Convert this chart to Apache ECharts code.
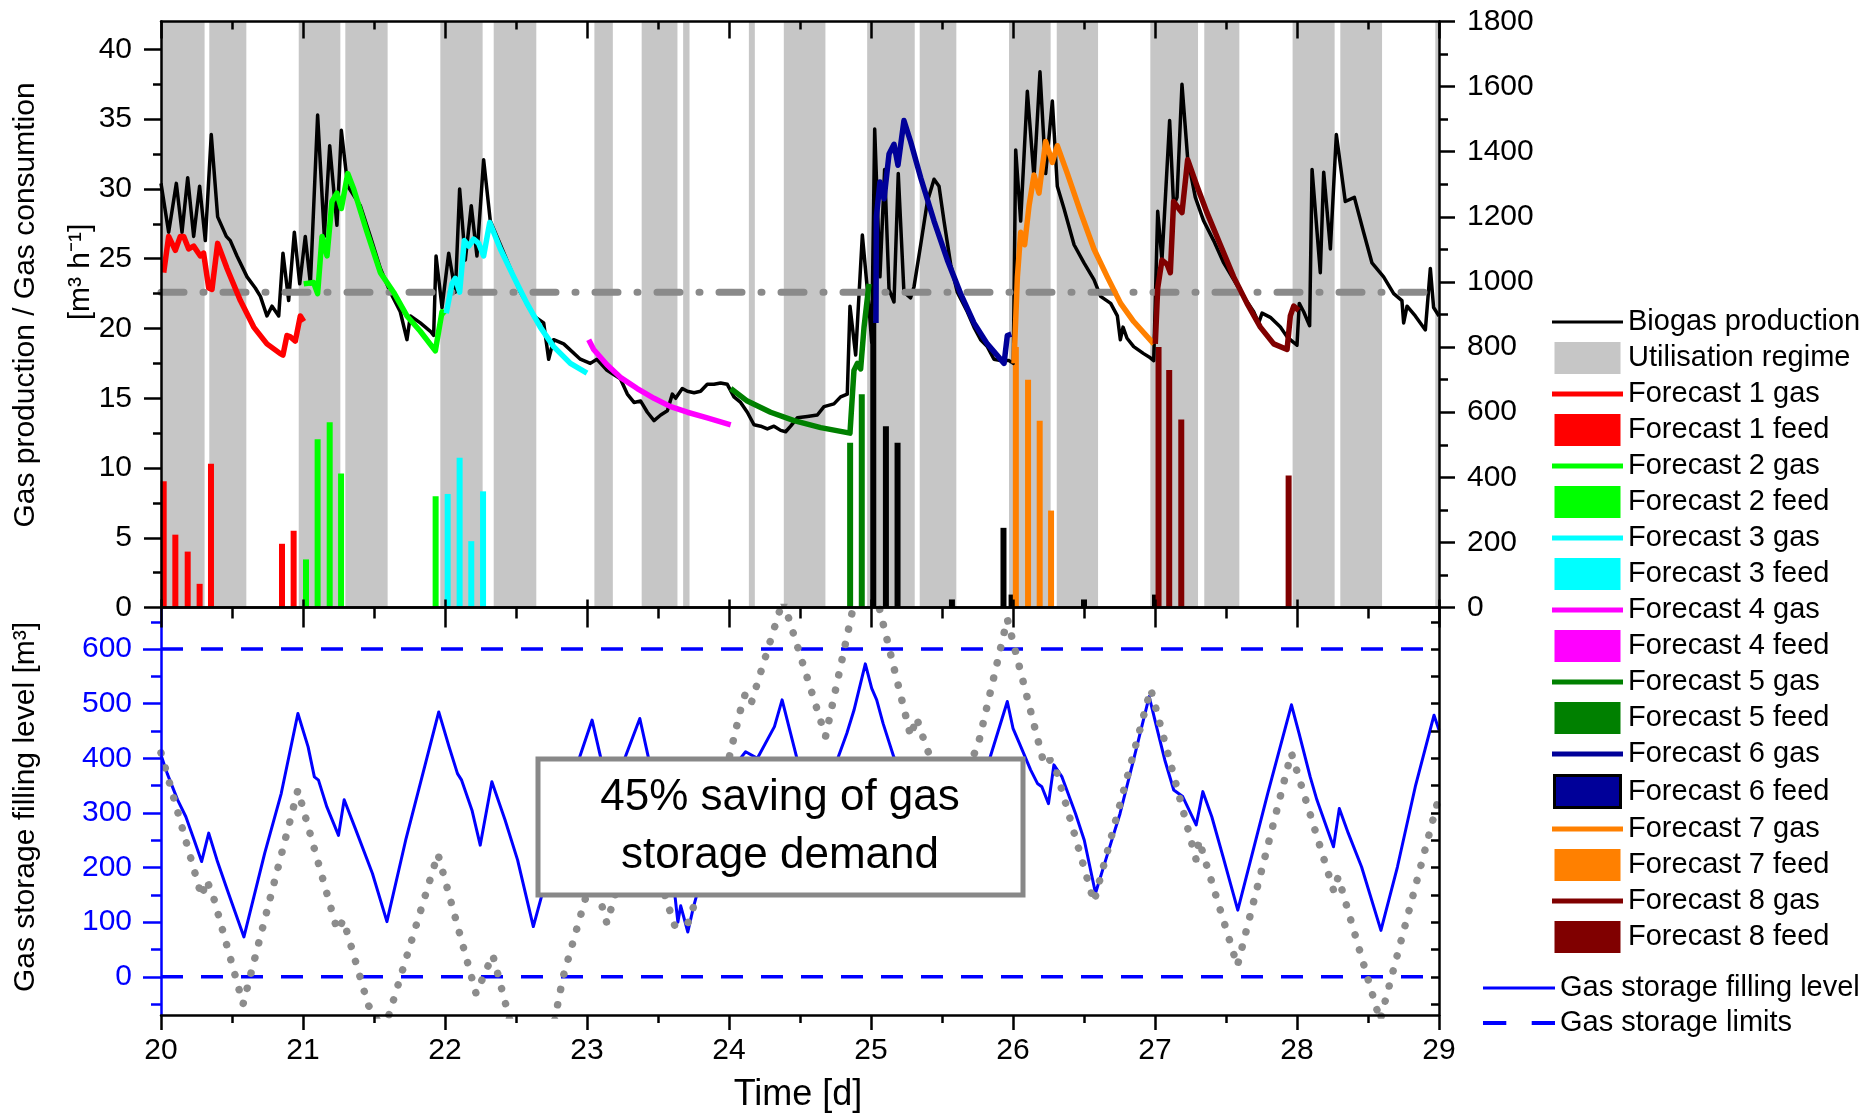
<!DOCTYPE html>
<html><head><meta charset="utf-8">
<script src="https://cdn.jsdelivr.net/npm/echarts@6/dist/echarts.min.js"></script>
<style>html,body{margin:0;padding:0;background:#fff}#c{width:1868px;height:1113px}</style>
</head><body><div id="c"></div>
<script>
// ---------------- DATA ----------------
const bandStart = [20.0, 20.34, 20.97, 21.298, 21.967, 22.343, 23.052, 23.385, 23.677, 24.14, 24.386, 24.973, 25.343, 25.972, 26.308, 26.967, 27.347, 27.969, 28.305, 28.974];
const bandEnd   = [20.307, 20.601, 21.263, 21.596, 22.265, 22.643, 23.182, 23.637, 23.722, 24.182, 24.679, 25.308, 25.601, 26.265, 26.599, 27.303, 27.594, 28.265, 28.599, 29.0];

const biogas = [[20.000,30.4],[20.054,26.9],[20.108,30.4],[20.148,26.9],[20.188,30.8],[20.230,26.6],[20.272,30.2],[20.312,26.3],[20.354,33.9],[20.399,28.0],[20.460,26.6],[20.488,26.3],[20.535,25.2],[20.606,23.7],[20.664,22.9],[20.700,22.3],[20.746,20.9],[20.782,21.6],[20.829,20.9],[20.859,25.4],[20.899,22.0],[20.939,26.9],[20.977,23.2],[21.016,26.6],[21.052,23.2],[21.103,35.3],[21.150,26.6],[21.188,33.1],[21.239,27.4],[21.270,34.2],[21.315,30.2],[21.404,28.8],[21.474,26.6],[21.545,24.3],[21.615,22.6],[21.685,21.2],[21.732,19.2],[21.756,20.9],[21.826,20.4],[21.897,19.8],[21.920,19.5],[21.937,25.2],[21.979,21.5],[22.026,25.4],[22.073,22.6],[22.103,30.0],[22.143,24.9],[22.185,28.8],[22.225,25.2],[22.272,32.1],[22.319,27.7],[22.390,26.0],[22.460,24.3],[22.531,22.6],[22.624,20.9],[22.695,20.4],[22.730,17.8],[22.765,19.2],[22.836,18.9],[22.953,17.8],[23.023,17.5],[23.070,17.8],[23.141,17.0],[23.235,16.4],[23.284,15.3],[23.331,14.7],[23.378,14.8],[23.425,14.0],[23.472,13.4],[23.519,13.8],[23.566,14.1],[23.601,15.3],[23.624,15.0],[23.671,15.7],[23.707,15.5],[23.754,15.4],[23.800,15.5],[23.847,16.0],[23.894,16.0],[23.941,16.1],[23.988,16.0],[24.035,15.1],[24.082,14.7],[24.129,14.0],[24.176,13.1],[24.223,13.0],[24.270,12.8],[24.317,13.0],[24.364,12.7],[24.399,12.6],[24.434,13.0],[24.481,13.6],[24.552,13.7],[24.622,13.8],[24.669,14.4],[24.739,14.6],[24.786,15.1],[24.833,15.3],[24.852,21.6],[24.892,18.1],[24.939,26.7],[24.986,21.5],[25.005,19.0],[25.026,34.3],[25.063,23.7],[25.096,31.4],[25.127,22.8],[25.162,21.9],[25.192,31.1],[25.232,22.6],[25.279,22.2],[25.303,23.0],[25.350,26.0],[25.397,29.1],[25.444,30.7],[25.479,30.2],[25.514,27.7],[25.561,24.6],[25.608,22.6],[25.678,21.2],[25.725,20.1],[25.772,19.2],[25.819,18.7],[25.866,17.8],[25.913,17.7],[25.972,17.7],[26.002,17.5],[26.019,32.8],[26.054,27.7],[26.101,37.0],[26.148,30.8],[26.190,38.4],[26.230,31.1],[26.277,36.3],[26.312,30.2],[26.359,28.6],[26.430,26.0],[26.500,24.7],[26.570,23.5],[26.617,22.3],[26.688,21.8],[26.735,20.9],[26.756,19.2],[26.775,20.1],[26.803,19.3],[26.850,18.7],[26.920,18.2],[26.967,17.9],[26.991,17.7],[27.019,28.4],[27.049,24.9],[27.103,34.9],[27.131,28.8],[27.155,29.4],[27.190,37.5],[27.230,32.2],[27.284,29.4],[27.343,27.7],[27.413,26.3],[27.484,24.7],[27.554,23.5],[27.624,22.3],[27.695,21.2],[27.730,20.4],[27.754,21.1],[27.812,20.8],[27.883,20.1],[27.930,19.4],[27.965,19.1],[28.000,18.8],[28.016,21.8],[28.047,21.2],[28.089,20.2],[28.106,31.4],[28.164,24.0],[28.188,31.2],[28.235,25.7],[28.277,33.9],[28.340,29.1],[28.404,29.4],[28.469,26.9],[28.528,24.7],[28.610,23.7],[28.681,22.5],[28.739,22.0],[28.751,20.4],[28.775,21.6],[28.833,20.9],[28.904,19.9],[28.939,24.3],[28.962,21.5],[29.000,20.9]];

const fc1Gas = [[20.019,24.0],[20.054,26.6],[20.101,25.6],[20.136,26.6],[20.160,26.6],[20.195,25.7],[20.230,25.9],[20.277,25.2],[20.300,25.4],[20.336,22.9],[20.359,22.8],[20.399,26.1],[20.465,24.3],[20.559,22.0],[20.653,20.1],[20.746,18.9],[20.840,18.2],[20.859,18.1],[20.887,19.5],[20.911,19.4],[20.946,19.1],[20.981,20.9],[21.005,20.5]];
const fc2Gas = [[21.005,23.2],[21.075,23.3],[21.103,22.5],[21.134,26.6],[21.169,25.2],[21.204,29.1],[21.239,29.7],[21.270,28.6],[21.315,31.1],[21.357,30.0],[21.451,26.9],[21.545,24.0],[21.638,22.6],[21.732,20.9],[21.826,19.8],[21.932,18.4],[21.979,21.2],[22.002,21.0]];
const fc3Gas = [[22.009,21.1],[22.049,23.2],[22.073,23.6],[22.103,22.6],[22.136,26.3],[22.167,25.9],[22.202,26.4],[22.237,26.1],[22.272,25.2],[22.315,27.6],[22.390,25.7],[22.484,23.7],[22.577,21.8],[22.671,20.1],[22.765,18.7],[22.883,17.5],[23.000,16.8]];
const fc4Gas = [[23.012,19.2],[23.047,18.5],[23.141,17.4],[23.235,16.5],[23.354,15.7],[23.472,15.0],[23.589,14.4],[23.707,14.0],[23.847,13.6],[24.012,13.1]];
const fc5Gas = [[24.012,15.7],[24.129,14.8],[24.293,14.0],[24.458,13.4],[24.646,12.9],[24.852,12.5],[24.880,17.0],[24.904,17.5],[24.927,17.1],[24.951,20.1],[24.986,23.2]];
const fc6Gas = [[25.035,20.4],[25.038,28.0],[25.063,30.5],[25.092,29.3],[25.127,32.5],[25.162,33.2],[25.190,31.7],[25.232,34.9],[25.279,33.4],[25.350,30.8],[25.444,27.7],[25.538,24.9],[25.631,22.5],[25.725,20.4],[25.819,18.9],[25.937,17.5],[25.960,19.5],[25.988,19.6]];
const fc7Gas = [[26.007,17.5],[26.031,23.7],[26.054,26.9],[26.082,26.0],[26.113,28.8],[26.148,31.0],[26.183,29.7],[26.230,33.4],[26.277,31.9],[26.312,33.1],[26.383,31.1],[26.477,28.3],[26.570,25.7],[26.664,23.7],[26.758,21.8],[26.850,20.5],[26.991,18.9]];
const fc8Gas = [[27.002,18.9],[27.019,22.9],[27.049,24.9],[27.085,24.6],[27.108,24.0],[27.131,29.1],[27.167,28.6],[27.190,28.3],[27.230,32.1],[27.296,30.2],[27.366,28.3],[27.460,26.0],[27.554,23.7],[27.648,21.8],[27.742,20.1],[27.836,18.9],[27.930,18.5],[27.953,20.9],[27.977,21.6],[28.012,21.3]];

const fc1Feed = [[20.019,388],[20.101,224],[20.188,172],[20.272,73],[20.352,442],[20.852,196],[20.934,236]];
const fc2Feed = [[21.021,148],[21.103,517],[21.188,569],[21.268,412],[21.934,342]];
const fc3Feed = [[22.019,349],[22.103,460],[22.185,204],[22.268,357]];
const fc4Feed = [];
const fc5Feed = [[24.853,506],[24.935,655]];
const fc6Feed = [[25.016,880],[25.105,557],[25.187,506],[25.57,25],[25.933,245],[25.99,40],[26.5,25],[27.0,40]];
const fc7Feed = [[26.02,800],[26.106,700],[26.188,574],[26.268,298]];
const fc8Feed = [[27.025,800],[27.100,730],[27.185,578],[27.941,406]];

const consumption = [[20,22.6],[29,22.6]];

const storageLevel = [[20.0,406],[20.044,372],[20.117,324],[20.175,293],[20.234,250],[20.286,211],[20.336,263],[20.394,214],[20.467,159],[20.584,73],[20.730,226],[20.847,336],[20.964,482],[21.036,421],[21.080,366],[21.109,360],[21.168,311],[21.250,259],[21.290,324],[21.372,269],[21.489,189],[21.591,101],[21.723,250],[21.869,397],[21.956,485],[22.029,421],[22.088,372],[22.117,360],[22.190,305],[22.248,241],[22.330,357],[22.423,287],[22.511,214],[22.622,92],[22.686,153],[22.82,290],[22.949,403],[23.036,470],[23.095,403],[23.18,300],[23.270,403],[23.372,473],[23.431,403],[23.52,270],[23.62,147],[23.64,100],[23.66,130],[23.71,82],[23.75,128],[23.92,290],[24.08,400],[24.117,412],[24.2,400],[24.32,458],[24.374,507],[24.49,388],[24.62,280],[24.77,403],[24.83,446],[24.88,488],[24.96,573],[25.005,528],[25.04,507],[25.085,464],[25.16,403],[25.48,250],[25.84,403],[25.96,504],[26.0,455],[26.046,427],[26.124,379],[26.172,354],[26.203,348],[26.25,317],[26.288,388],[26.345,366],[26.44,299],[26.502,250],[26.581,153],[26.66,220],[26.754,299],[26.849,397],[26.959,513],[27.022,446],[27.069,397],[27.132,342],[27.195,330],[27.29,278],[27.337,339],[27.4,293],[27.479,220],[27.583,122],[27.668,208],[27.794,336],[27.961,498],[28.014,446],[28.093,366],[28.14,324],[28.257,238],[28.298,308],[28.361,263],[28.455,201],[28.591,85],[28.707,201],[28.833,348],[28.965,479],[29.0,452]];

const storageNoForecast = [[20.0,410],[20.286,147],[20.321,177],[20.365,150],[20.578,-50],[20.964,342],[21.241,85],[21.285,104],[21.460,-52],[21.57,-100],[21.950,225],[22.219,-31],[22.336,40],[22.365,12],[22.636,-259],[22.832,0],[23.04,190],[23.14,98],[23.17,125],[23.36,300],[23.62,92],[23.71,98],[23.75,128],[24.09,498],[24.12,522],[24.16,504],[24.38,690],[24.68,440],[24.96,780],[25.28,440],[25.32,475],[25.39,420],[25.55,320],[25.75,420],[25.96,655],[26.22,388],[26.26,397],[26.29,391],[26.57,137],[26.97,527],[27.29,214],[27.31,250],[27.58,20],[27.96,410],[28.26,156],[28.29,183],[28.585,-80],[28.97,300],[29.0,330]];

const storageUpper = [[20,600],[29,600]];
const storageLower = [[20,0],[29,0]];

const gasTicks = [0,5,10,15,20,25,30,35,40];
const gasMinorTicks = [2.5,7.5,12.5,17.5,22.5,27.5,32.5,37.5];
const storeTicks = [0,100,200,300,400,500,600];
const storeMinorTicks = [-50,50,150,250,350,450,550,650];
const storeRightTicks = [-50,0,50,100,150,200,250,300,350,400,450,500,550,600,650];

const fcColors = ['#ff0000','#00ff00','#00ffff','#ff00ff','#008000','#000099','#ff8000','#800000'];
const fcGas = [fc1Gas,fc2Gas,fc3Gas,fc4Gas,fc5Gas,fc6Gas,fc7Gas,fc8Gas];
const fcFeed = [fc1Feed,fc2Feed,fc3Feed,fc4Feed,fc5Feed,fc6Feed,fc7Feed,fc8Feed];

// ---------------- CHART ----------------
const F = 'Liberation Sans, Arial, sans-serif';
const chart = echarts.init(document.getElementById('c'), null, {renderer:'canvas', width:1868, height:1113});
const K = '#000';
const plain = v => String(v);

function xAxis(gridIndex, position, inside, major, minor, labels) {
  return {type:'value', gridIndex, position, min:20, max:29, interval:1, z:10,
    axisLine:{show:true, onZero:false, lineStyle:{color:K, width:2.5}},
    axisTick:{show:true, inside, length:major, lineStyle:{color:K, width:2.5}},
    minorTick:{show:minor>0, splitNumber:2, length:minor, lineStyle:{color:K, width:2.5}},
    axisLabel:{show:labels, fontSize:30, color:K, fontFamily:F, margin:21, formatter:plain},
    splitLine:{show:false}, minorSplitLine:{show:false}};
}

const xAxes = [
  xAxis(0,'bottom',true,8,0,false),
  xAxis(0,'top',true,17,8,false),
  xAxis(1,'top',true,20,11,false),
  xAxis(1,'bottom',false,15,8,true)
];

const yAxes = [
  {type:'value', gridIndex:0, position:'left', min:0, max:42, z:10,
    axisLine:{show:true, onZero:false, lineStyle:{color:K, width:2.5}},
    axisTick:{show:true, length:17, customValues:gasTicks, lineStyle:{color:K, width:2.5}},
    axisLabel:{show:true, customValues:gasTicks, fontSize:30, color:K, fontFamily:F, margin:29, formatter:plain},
    splitLine:{show:false}},
  {type:'value', gridIndex:0, position:'left', min:0, max:42, z:10,
    axisLine:{show:false, onZero:false},
    axisTick:{show:true, length:8, customValues:gasMinorTicks, lineStyle:{color:K, width:2.5}},
    axisLabel:{show:false}, splitLine:{show:false}},
  {type:'value', gridIndex:0, position:'right', min:0, max:1800, interval:200, z:10,
    axisLine:{show:true, onZero:false, lineStyle:{color:K, width:2.5}},
    axisTick:{show:true, length:16, lineStyle:{color:K, width:2.5}},
    minorTick:{show:true, splitNumber:2, length:9, lineStyle:{color:K, width:2.5}},
    axisLabel:{show:true, fontSize:30, color:K, fontFamily:F, margin:28, formatter:plain},
    splitLine:{show:false}, minorSplitLine:{show:false}},
  {type:'value', gridIndex:1, position:'left', min:-70, max:676, z:10,
    axisLine:{show:true, onZero:false, lineStyle:{color:'#0000ff', width:2.5}},
    axisTick:{show:true, length:18, customValues:storeTicks, lineStyle:{color:'#0000ff', width:2.5}},
    axisLabel:{show:true, customValues:storeTicks, fontSize:30, color:'#0000ff', fontFamily:F, margin:29, formatter:plain},
    splitLine:{show:false}},
  {type:'value', gridIndex:1, position:'left', min:-70, max:676, z:10,
    axisLine:{show:false, onZero:false},
    axisTick:{show:true, length:10, customValues:storeMinorTicks, lineStyle:{color:'#0000ff', width:2.5}},
    axisLabel:{show:false}, splitLine:{show:false}},
  {type:'value', gridIndex:1, position:'right', min:-70, max:676, z:10,
    axisLine:{show:true, onZero:false, lineStyle:{color:K, width:2.5}},
    axisTick:{show:true, inside:true, length:8, customValues:storeRightTicks, lineStyle:{color:K, width:2.5}},
    axisLabel:{show:false}, splitLine:{show:false}}
];

const series = [];
series.push({
  type:'custom', name:'Utilisation regime', xAxisIndex:0, yAxisIndex:0, z:1, silent:true,
  itemStyle:{color:'#c6c6c6'},
  encode:{x:[0,1], y:2},
  data: bandStart.map((s,i)=>[s, bandEnd[i], 0]),
  renderItem:(params, api)=>{
    const p0 = api.coord([api.value(0), 42]);
    const p1 = api.coord([api.value(1), 0]);
    return {type:'rect', shape:{x:p0[0], y:p0[1], width:p1[0]-p0[0], height:p1[1]-p0[1]}, style:{fill:'#c6c6c6'}};
  }
});
fcFeed.forEach((d,i)=>{
  const isSix = i === 5;
  series.push({type:'bar', name:`Forecast ${i+1} feed`, xAxisIndex:0, yAxisIndex:2, data:d,
    barWidth:6, barGap:'-100%', z:2, silent:true,
    itemStyle:{color: isSix ? '#000' : fcColors[i]}});
});
series.push({type:'line', name:'Biogas production', xAxisIndex:0, yAxisIndex:0, data:biogas, color:'#000',
  symbol:'none', z:3, silent:true, lineStyle:{color:'#000', width:3.5, join:'round'}});
series.push({type:'line', name:'Gas consumption', xAxisIndex:0, yAxisIndex:0, data:consumption, color:'#8a8a8a',
  symbol:'none', z:4, silent:true, lineStyle:{color:'#8a8a8a', width:7, type:[23,19,1,19], cap:'round'}});
fcGas.forEach((d,i)=>{
  series.push({type:'line', name:`Forecast ${i+1} gas`, xAxisIndex:0, yAxisIndex:0, data:d, color:fcColors[i],
    symbol:'none', z:5, silent:true, lineStyle:{color:fcColors[i], width:5.5, join:'round'}});
});
series.push({type:'line', name:'Gas storage limits', xAxisIndex:3, yAxisIndex:3, data:storageUpper, color:'#0000ff',
  symbol:'none', z:2, silent:true, lineStyle:{color:'#0000ff', width:3.5, type:[22,18]}});
series.push({type:'line', name:'Gas storage limits', xAxisIndex:3, yAxisIndex:3, data:storageLower, color:'#0000ff',
  symbol:'none', z:2, silent:true, lineStyle:{color:'#0000ff', width:3.5, type:[22,18]}});
series.push({type:'line', name:'Gas storage filling level', xAxisIndex:3, yAxisIndex:3, data:storageLevel, color:'#0000ff',
  symbol:'none', z:3, silent:true, lineStyle:{color:'#0000ff', width:3, join:'round'}});
series.push({type:'line', name:'Storage without forecast', xAxisIndex:3, yAxisIndex:3, data:storageNoForecast, color:'#8c8c8c',
  symbol:'none', z:4, silent:true, lineStyle:{color:'#8c8c8c', width:7.5, type:[0.1,15.5], cap:'round'}});

const L3 = 'path://M0,0H71V3H0Z';
const L5 = 'path://M0,0H71V5H0Z';
const R = 'path://M0,0H66V32H0Z';
const legend1Data = [{name:'Biogas production', icon:L3}, {name:'Utilisation regime', icon:R}];
for (let i=0;i<8;i++) {
  legend1Data.push({name:`Forecast ${i+1} gas`, icon:L5});
  legend1Data.push(i===5 ? {name:`Forecast ${i+1} feed`, icon:R, itemStyle:{color:'#000099', borderColor:'#000', borderWidth:3}}
                         : {name:`Forecast ${i+1} feed`, icon:R});
}

const option = {
  animation:false,
  backgroundColor:'#fff',
  textStyle:{fontFamily:F},
  grid:[{left:161, top:21.5, width:1278, height:586.1}, {left:161, top:607.6, width:1278, height:407.4}],
  xAxis:xAxes,
  yAxis:yAxes,
  legend:[
    {orient:'vertical', left:1552, top:306, padding:0, itemWidth:71, itemHeight:32, itemGap:4, selectedMode:false,
     itemStyle:{borderWidth:0}, textStyle:{fontSize:29, color:K, fontFamily:F, lineHeight:32}, data:legend1Data},
    {orient:'vertical', left:1483, top:972, padding:0, itemWidth:72, itemHeight:32, itemGap:3, selectedMode:false,
     itemStyle:{borderWidth:0}, textStyle:{fontSize:29, color:K, fontFamily:F, lineHeight:32},
     data:[{name:'Gas storage filling level', icon:'path://M0,0H72V3H0Z'},
           {name:'Gas storage limits', icon:'path://M0,0H22V4H0Z M46,0H68V4H46Z'}]}
  ],
  graphic:[
    {type:'text', x:26, y:305, rotation:Math.PI/2, z:50,
     style:{text:'Gas production / Gas consumtion', font:`30px ${F}`, fill:K, align:'center', verticalAlign:'middle'}},
    {type:'text', x:81, y:272, rotation:Math.PI/2, z:50,
     style:{text:'[m\u00B3 h\u207B\u00B9]', font:`30px ${F}`, fill:K, align:'center', verticalAlign:'middle'}},
    {type:'text', x:26, y:807, rotation:Math.PI/2, z:50,
     style:{text:'Gas storage filling level [m\u00B3]', font:`30px ${F}`, fill:K, align:'center', verticalAlign:'middle'}},
    {type:'text', x:798, y:1095, z:50,
     style:{text:'Time [d]', font:`36px ${F}`, fill:K, align:'center', verticalAlign:'middle'}},
    {type:'rect', shape:{x:538, y:759, width:485, height:136}, z:100,
     style:{fill:'#fff', stroke:'#888', lineWidth:5}},
    {type:'text', x:780, y:827, z:101,
     style:{text:'45% saving of gas\nstorage demand', font:`44px ${F}`, fill:K, align:'center', verticalAlign:'middle', lineHeight:58}}
  ],
  series
};
chart.setOption(option);
</script></body></html>
